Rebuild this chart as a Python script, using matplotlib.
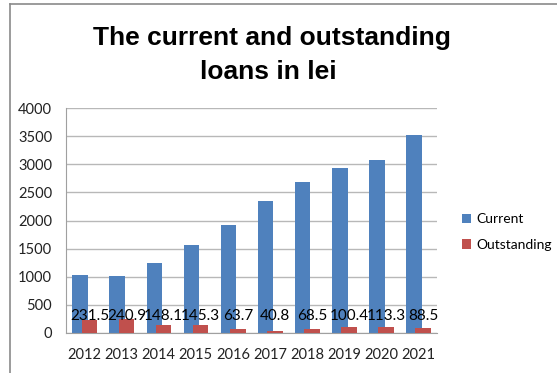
import numpy as np
import matplotlib.pyplot as plt
from matplotlib.lines import Line2D

years = ['2012', '2013', '2014', '2015', '2016', '2017', '2018', '2019', '2020', '2021']
current = [1027, 1015, 1240, 1557, 1923, 2354, 2690, 2938, 3080, 3517]
outstanding = [231.5, 240.9, 148.1, 145.3, 63.7, 40.8, 68.5, 100.4, 113.3, 88.5]
label_level = 300

blue = '#4F81BD'
red = '#C0504D'
plt.rcParams['font.family'] = ['Lato', 'DejaVu Sans']

fig = plt.figure(figsize=(5.57, 3.73), dpi=100)
ax = fig.add_axes([66 / 557, 40 / 373, 371 / 557, 225 / 373])

x = np.arange(len(years))
w = 0.42
ax.bar(x - 0.12, current, w, color=blue, label='Current', zorder=2)
ax.bar(x + 0.13, outstanding, w, color=red, label='Outstanding', zorder=3)
for xi, v in zip(x, outstanding):
    ax.text(xi + 0.13, label_level, f'{v:g}', ha='center', va='center',
            fontsize=11, color='black', zorder=4)

ax.set_xlim(-0.5, len(years) - 0.5)
ax.set_ylim(0, 4000)
ax.set_yticks(range(0, 4001, 500))
ax.set_xticks(x)
ax.set_xticklabels(years)
ax.tick_params(axis='both', length=0, labelsize=10.5, colors='#222222')
ax.tick_params(axis='y', pad=10)
ax.tick_params(axis='x', pad=11)
ax.grid(axis='y', color='#b8b8b8', linewidth=1, zorder=0)
for side in ['top', 'right']:
    ax.spines[side].set_visible(False)
for side in ['left', 'bottom']:
    ax.spines[side].set_color('#a0a0a0')

fig.legend(loc='center left', bbox_to_anchor=(456 / 557, 1 - 232 / 373),
           frameon=False, fontsize=10, handlelength=0.65, handleheight=0.65,
           handletextpad=0.45, labelspacing=1.0, borderaxespad=0)

fig.text(272 / 557, 1 - 38 / 373, 'The current and outstanding', ha='center',
         va='center', fontsize=19, fontweight='bold', family='Liberation Sans')
fig.text(268 / 557, 1 - 72 / 373, 'loans in lei', ha='center',
         va='center', fontsize=19, fontweight='bold', family='Liberation Sans')

# outer frame: left and top edges only
fig.add_artist(Line2D([10 / 557, 10 / 557], [0, 1 - 4 / 373], color='#8a8a8a',
                      linewidth=1.2, transform=fig.transFigure))
fig.add_artist(Line2D([10 / 557, 1], [1 - 4 / 373, 1 - 4 / 373], color='#8a8a8a',
                      linewidth=1.2, transform=fig.transFigure))

fig.savefig('out.png', dpi=100)
